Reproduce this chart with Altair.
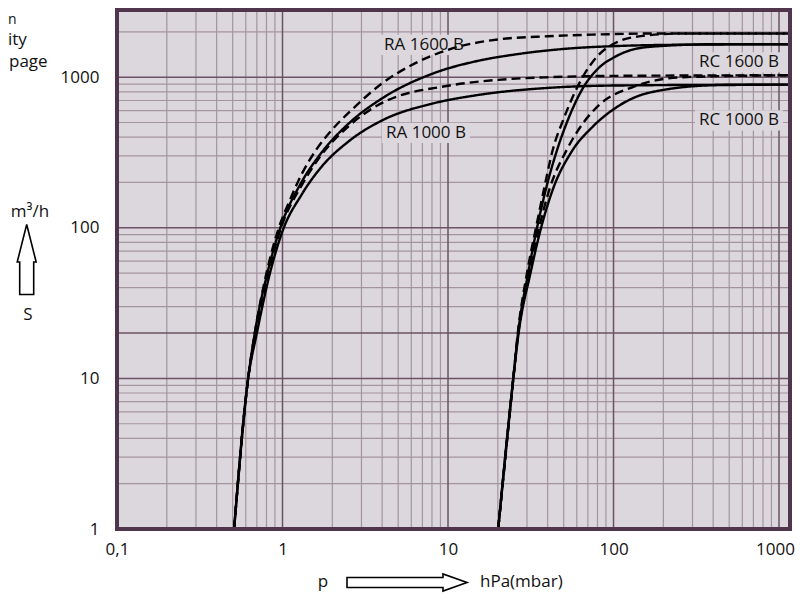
import altair as alt
import pandas as pd

# ---------------- data ----------------
# pressure p in hPa, pumping speed S in m3/h
ra1600_dash_p = [0.51, 0.62, 0.68, 0.80, 0.95, 1.1, 1.3, 1.6, 2.0, 2.55, 4.0, 6.0, 10, 20, 40, 80, 165, 1165]
ra1600_dash_s = [1, 10, 20, 50, 100, 150, 225, 330, 450, 590, 910, 1200, 1520, 1780, 1870, 1920, 1950, 1950]

ra1600_sol_p = [0.51, 0.62, 0.68, 0.81, 0.97, 1.3, 1.7, 2.55, 4.05, 8.15, 15, 26, 50, 104, 300, 1165]
ra1600_sol_s = [1, 10, 20, 50, 100, 200, 310, 500, 730, 1060, 1280, 1420, 1540, 1610, 1645, 1655]

ra1000_dash_p = [0.51, 0.62, 0.69, 0.82, 0.98, 1.3, 1.7, 2.55, 4.05, 10.2, 20, 41, 100, 1165]
ra1000_dash_s = [1, 10, 20, 50, 100, 190, 300, 480, 680, 880, 960, 1000, 1020, 1030]

ra1000_sol_p = [0.51, 0.62, 0.70, 0.84, 1.0, 1.3, 1.7, 2.55, 4.05, 8.15, 15, 41, 100, 1165]
ra1000_sol_s = [1, 10, 20, 50, 95, 165, 250, 380, 520, 670, 760, 850, 880, 893]

rc1600_dash_p = [20.1, 24.8, 26.4, 30, 34, 38, 43, 50, 57, 65.5, 80, 104, 150, 263, 1165]
rc1600_dash_s = [1, 10, 20, 50, 100, 180, 331, 530, 750, 1013, 1380, 1700, 1880, 1950, 1950]

rc1600_sol_p = [20.1, 24.8, 26.5, 30.5, 34.5, 39, 45.7, 53, 65.5, 80, 104, 165, 421, 1165]
rc1600_sol_s = [1, 10, 20, 50, 100, 180, 331, 520, 850, 1130, 1380, 1590, 1655, 1655]

rc1000_dash_p = [20.1, 24.8, 26.6, 31, 35.5, 41, 52.3, 65, 82.7, 131, 263, 1165]
rc1000_dash_s = [1, 10, 20, 50, 100, 180, 331, 490, 660, 860, 1000, 1030]

rc1000_sol_p = [20.1, 24.8, 26.7, 31.5, 36.5, 43, 55.8, 75, 104, 165, 421, 1165]
rc1000_sol_s = [1, 10, 20, 50, 100, 180, 320, 470, 630, 790, 885, 893]

curve_names = ["RA1600d", "RA1600s", "RA1000d", "RA1000s", "RC1600d", "RC1600s", "RC1000d", "RC1000s"]
curve_dash = ["dashed", "solid", "dashed", "solid", "dashed", "solid", "dashed", "solid"]
curve_p = [ra1600_dash_p, ra1600_sol_p, ra1000_dash_p, ra1000_sol_p,
           rc1600_dash_p, rc1600_sol_p, rc1000_dash_p, rc1000_sol_p]
curve_s = [ra1600_dash_s, ra1600_sol_s, ra1000_dash_s, ra1000_sol_s,
           rc1600_dash_s, rc1600_sol_s, rc1000_dash_s, rc1000_sol_s]

label_text = ["RA 1600 B", "RA 1000 B", "RC 1600 B", "RC 1000 B"]
label_p = [7.16, 7.36, 573, 573]
label_s = [1637, 426, 1253, 516]

x_ticks = [0.1, 1, 10, 100, 1000]
y_ticks = [1, 10, 100, 1000]
x_minor = [m * d for d in [0.1, 1, 10, 100] for m in range(2, 10)]
x_major = [1, 10, 100, 1000]
y_minor = [m * d for d in [1, 10, 100] for m in range(2, 10) if m * d != 20] + [2000]
y_major = [10, 20, 100, 1000]

# ---------------- build tables ----------------
rows = []
for name, dash, ps, ss in zip(curve_names, curve_dash, curve_p, curve_s):
    for i, (p, s) in enumerate(zip(ps, ss)):
        rows.append({"curve": name, "style": dash, "p": p, "S": s, "order": i})
df = pd.DataFrame(rows)
labels = pd.DataFrame({"text": label_text, "p": label_p, "S": label_s})

W, H = 673, 519
BG = "#dcd7dc"
BORDER = "#4f364d"
MINOR = "#a4949f"
MAJOR = "#6c5266"
FONT = "Open Sans"

xs = alt.Scale(type="log", domain=[0.1, 1165], nice=False)
ys = alt.Scale(type="log", domain=[1, 2793], nice=False)

XA = alt.Axis(values=x_ticks, grid=False, ticks=False, domain=False, title=None,
              labelExpr="datum.value < 0.5 ? '0,1' : format(datum.value, 'd')",
              labelFont=FONT, labelFontSize=17, labelColor="#111",
              labelOffset={"condition": {"test": "datum.value > 500", "value": -4}, "value": 0},
              labelPadding=12, labelFlush=False, labelOverlap=False)
YA = alt.Axis(values=y_ticks, grid=False, ticks=False, domain=False, title=None,
              format="d", labelFont=FONT, labelFontSize=17, labelColor="#111",
              labelPadding=18, labelFlush=False, labelOverlap=False)

bg = alt.Chart(pd.DataFrame({"a": [0]})).mark_rect(fill=BG).encode(
    x=alt.value(0), x2=alt.value(W), y=alt.value(0), y2=alt.value(H))

gx_minor = alt.Chart(pd.DataFrame({"v": x_minor})).mark_rule(color=MINOR, strokeWidth=1.2).encode(
    x=alt.X("v:Q", scale=xs, axis=XA))
gx_major = alt.Chart(pd.DataFrame({"v": x_major})).mark_rule(color=MAJOR, strokeWidth=1.5).encode(
    x=alt.X("v:Q", scale=xs, axis=XA))
gy_minor = alt.Chart(pd.DataFrame({"v": y_minor})).mark_rule(color=MINOR, strokeWidth=1.2).encode(
    y=alt.Y("v:Q", scale=ys, axis=YA))
gy_major = alt.Chart(pd.DataFrame({"v": y_major})).mark_rule(color=MAJOR, strokeWidth=1.5).encode(
    y=alt.Y("v:Q", scale=ys, axis=YA))

box_path = "M-1,-0.23L1,-0.23L1,0.23L-1,0.23Z"
boxes = alt.Chart(labels).mark_point(shape=box_path, filled=True, fill=BG, opacity=1,
                                     strokeWidth=0, size=88 * 88).encode(
    x=alt.X("p:Q", scale=xs, axis=XA), y=alt.Y("S:Q", scale=ys, axis=YA))

lines = alt.Chart(df).mark_line(color="black", strokeWidth=2.4, interpolate="monotone").encode(
    x=alt.X("p:Q", scale=xs, axis=XA),
    y=alt.Y("S:Q", scale=ys, axis=YA),
    detail="curve:N",
    order="order:Q",
    strokeDash=alt.StrokeDash("style:N", scale=alt.Scale(domain=["solid", "dashed"],
                                                         range=[[1, 0], [9, 5]]), legend=None),
)

texts = alt.Chart(labels).mark_text(font=FONT, fontSize=17, color="#111").encode(
    x=alt.X("p:Q", scale=xs, axis=XA), y=alt.Y("S:Q", scale=ys, axis=YA), text="text:N")

border = alt.Chart(pd.DataFrame({"a": [0]})).mark_rect(filled=False, stroke=BORDER, strokeWidth=4).encode(
    x=alt.value(0), x2=alt.value(W), y=alt.value(0), y2=alt.value(H))

# annotation texts outside the plot (pixel positions relative to plot origin)
ann = pd.DataFrame({
    "t": ["n", "ity", "page", "m³/h", "S", "p", "hPa(mbar)"],
    "x": [-109, -109, -108, -87, -89, 206, 363],
    "y": [3, 22, 44, 202, 305, 572, 572],
    "size": [14, 17, 17, 17, 17, 17, 17],
    "align": ["left", "left", "left", "center", "center", "center", "left"],
    "base": ["top", "top", "top", "middle", "middle", "middle", "middle"],
})
ann_layers = []
for _, r in ann.iterrows():
    ann_layers.append(
        alt.Chart(pd.DataFrame({"t": [r["t"]]})).mark_text(
            font=FONT, fontSize=int(r["size"]), color="#111", align=r["align"], baseline=r["base"]
        ).encode(x=alt.value(float(r["x"])), y=alt.value(float(r["y"])), text="t:N")
    )

up_arrow = "M0,-1L0.27,0.07L0.2,0.07L0.2,1L-0.2,1L-0.2,0.07L-0.27,0.07Z"
right_arrow = "M1,0L0.6,-0.142L0.6,-0.083L-1,-0.083L-1,0.083L0.6,0.083L0.6,0.142Z"
arr1 = alt.Chart(pd.DataFrame({"a": [0]})).mark_point(shape=up_arrow, filled=False, stroke="black",
                                                       strokeWidth=1.6, size=70 * 70, opacity=1).encode(
    x=alt.value(-90.3), y=alt.value(249.5))
arr2 = alt.Chart(pd.DataFrame({"a": [0]})).mark_point(shape=right_arrow, filled=False, stroke="black",
                                                       strokeWidth=1.6, size=120 * 120, opacity=1).encode(
    x=alt.value(290), y=alt.value(572.5))

chart = alt.layer(
    bg, gx_minor, gy_minor, gx_major, gy_major, boxes, lines, texts, border, arr1, arr2, *ann_layers
).properties(
    width=W, height=H,
    autosize=alt.AutoSizeParams(type="none"),
    padding={"left": 109, "top": 2, "right": 6, "bottom": 65},
).configure_view(stroke=None)

chart.save("out.html", embed_options={"renderer": "svg", "actions": False})
